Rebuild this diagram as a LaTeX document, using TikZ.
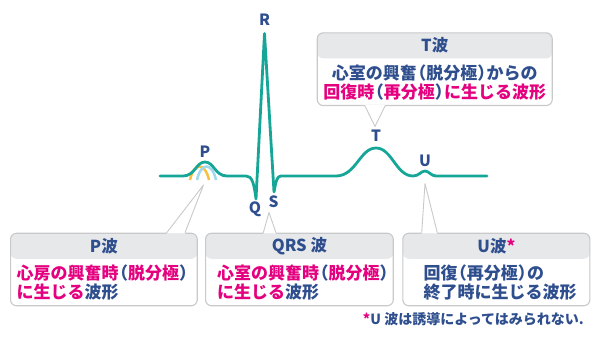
\documentclass[tikz,border=0pt]{standalone}
\usepackage{fontspec}
\setmainfont{Noto Sans CJK JP}[BoldFont={Noto Sans CJK JP Black}]
\usepackage{xcolor}
\usetikzlibrary{positioning}

\definecolor{ecgteal}{RGB}{22,166,152}
\definecolor{txtblue}{RGB}{46,78,142}
\definecolor{txtmag}{RGB}{228,0,127}
\definecolor{headgray}{RGB}{231,232,234}
\definecolor{boxgray}{RGB}{200,201,203}
\definecolor{pyellow}{RGB}{246,193,67}
\definecolor{pblue}{RGB}{160,216,238}

\newcommand\mg[1]{\textcolor{txtmag}{#1}}
\newcommand\lp{\kern-0.45em（}
\newcommand\rp{）\kern-0.45em}

\begin{document}
\begin{tikzpicture}[x=1pt, y=-1pt,
  wavebox/.style={draw=boxgray, line width=1.1pt, fill=white, rounded corners=6pt,
                  anchor=north west, minimum height=72.5pt, inner sep=0pt,
                  path picture={\fill[headgray] (path picture bounding box.north west)
                    rectangle ([yshift=-25.5pt]path picture bounding box.north east);}},
  head/.style={text=txtblue, font=\bfseries\fontsize{16.5}{19}\selectfont, inner sep=0pt},
  body/.style={text=txtblue, font=\bfseries\fontsize{17}{19}\selectfont, align=left, inner sep=0pt},
  wlabel/.style={text=txtblue, font=\bfseries\fontsize{15.5}{17}\selectfont, inner sep=0pt},
  tail/.style={draw=boxgray, line width=0.9pt, line join=round},
  ecg/.style={ecgteal, line width=2.8pt, line join=round, line cap=round}
]
  \useasboundingbox (0,0) rectangle (600,342);

  % P wave components
  \draw[pyellow, line width=2.5pt] (190,180) .. controls (194,162) and (205,162) .. (209,180);
  \draw[pblue, line width=2.5pt] (197,180) .. controls (201,162) and (212,162) .. (216,180);

  % ECG trace
  \draw[ecg] (160,176) -- (183,176)
    .. controls (195,176) and (196,162) .. (205,162)
    .. controls (214,162) and (215,176) .. (227,176)
    -- (246,176)
    .. controls (252,176) and (254,183) .. (256,199)
    -- (264.5,33.5) -- (274,192)
    .. controls (276,181) and (277,176) .. (281,176)
    -- (336,176)
    .. controls (356,176) and (360,148) .. (376,148)
    .. controls (392,148) and (396,176) .. (413,176)
    .. controls (419,176) and (421,171) .. (425,171)
    .. controls (429,171) and (431,176) .. (436,176)
    -- (487,176);

  % Wave labels
  \node[wlabel] (plab) at (205,152) {P};
  \node[wlabel] (qlab) at (255,209.5) {Q};
  \node[wlabel] (rlab) at (264.5,20) {R};
  \node[wlabel] (slab) at (273.5,201.5) {S};
  \node[wlabel] (tlab) at (376,136) {T};
  \node[wlabel] (ulab) at (425,161) {U};

  % Callout tips
  \coordinate (ptip) at (203.5,185);
  \coordinate (qrstip) at (269,212.5);
  \coordinate (ttip) at (375,126.5);
  \coordinate (utip) at (425,183.5);

  % T box
  \node[wavebox, minimum width=235pt, minimum height=72.7pt] (tbox) at (316.7,32.3) {};
  \node[head] (thead) at ([yshift=-12.7pt]tbox.north) {T波};
  \node[body, align=center] (tbody) at ([yshift=-50.2pt]tbox.north)
    {心室の興奮\lp 脱分極\rp からの\\\mg{回復時}\lp\mg{再分極}\rp\mg{に生じる波形}};

  % P box
  \node[wavebox, minimum width=186.7pt] (pbox) at (10,232.7) {};
  \node[head] (phead) at ([yshift=-13.5pt]pbox.north) {P波};
  \node[body, anchor=west] (pbody) at ([xshift=6.5pt, yshift=-50pt]pbox.north west)
    {\mg{心房の興奮時}\lp\mg{脱分極}\rp\\\mg{に生じる}波形};

  % QRS box
  \node[wavebox, minimum width=187.7pt] (qrsbox) at (205,232.7) {};
  \node[head] (qrshead) at ([yshift=-13.5pt]qrsbox.north) {QRS 波};
  \node[body, anchor=west] (qrsbody) at ([xshift=12pt, yshift=-50pt]qrsbox.north west)
    {\mg{心室の興奮時}\lp\mg{脱分極}\rp\\\mg{に生じる}波形};

  % U box
  \node[wavebox, minimum width=187pt] (ubox) at (402.3,232.7) {};
  \node[head] (uhead) at ([yshift=-13.5pt]ubox.north) {U波\mg{*}};
  \node[body, anchor=west] (ubody) at ([xshift=21pt, yshift=-50pt]ubox.north west)
    {回復\lp 再分極\rp の\\終了時に生じる波形};

  % Callout tails
  \fill[white] ([xshift=48.3pt, yshift=1pt]tbox.south west) -- (ttip) -- ([xshift=68.3pt, yshift=1pt]tbox.south west) -- cycle;
  \draw[tail] ([xshift=48.3pt]tbox.south west) -- (ttip) -- ([xshift=68.3pt]tbox.south west);
  \fill[white] ([xshift=156.7pt, yshift=-1pt]pbox.north west) -- (ptip) -- ([xshift=175pt, yshift=-1pt]pbox.north west) -- cycle;
  \draw[tail] ([xshift=156.7pt]pbox.north west) -- (ptip) -- ([xshift=175pt]pbox.north west);
  \fill[white] ([xshift=58.3pt, yshift=-1pt]qrsbox.north west) -- (qrstip) -- ([xshift=71pt, yshift=-1pt]qrsbox.north west) -- cycle;
  \draw[tail] ([xshift=58.3pt]qrsbox.north west) -- (qrstip) -- ([xshift=71pt]qrsbox.north west);
  \fill[white] ([xshift=19.4pt, yshift=-1pt]ubox.north west) -- (utip) -- ([xshift=35pt, yshift=-1pt]ubox.north west) -- cycle;
  \draw[tail] ([xshift=19.4pt]ubox.north west) -- (utip) -- ([xshift=35pt]ubox.north west);

  % Footnote
  \node[anchor=east, text=txtblue, font=\bfseries\fontsize{14}{16}\selectfont, inner sep=0pt]
    (unote) at (584,319) {\mg{*}U 波は誘導によってはみられない.};
\end{tikzpicture}
\end{document}
